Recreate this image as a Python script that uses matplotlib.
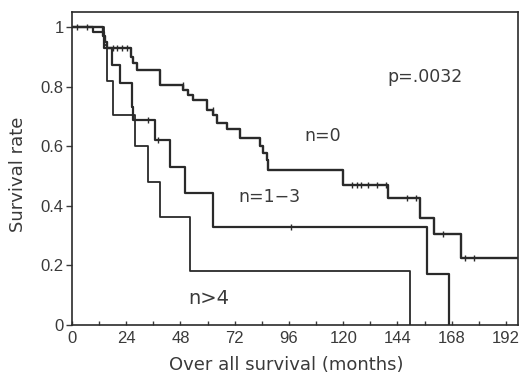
import matplotlib
matplotlib.use("Agg")
import matplotlib.pyplot as plt
from matplotlib.ticker import MultipleLocator

plt.rcParams['font.family'] = ['Liberation Sans', 'DejaVu Sans']

# n = 0
t0 = [0, 13.5, 14.5, 15.5, 26, 27, 28.6, 39, 49.3, 51.5, 53.7, 59.6, 62.5, 64, 68.4, 74.3, 83.2, 84.6, 86.1, 86.9, 120, 140, 154, 160, 172, 197]
s0 = [1, 0.97, 0.95, 0.93, 0.90, 0.88, 0.857, 0.807, 0.79, 0.773, 0.756, 0.723, 0.706, 0.68, 0.66, 0.63, 0.60, 0.577, 0.555, 0.52, 0.47, 0.427, 0.36, 0.306, 0.226, 0.226]
c0_t = [2, 6.6, 18, 20, 22, 24.5, 49.3, 62.5, 124, 126, 128, 131, 135, 139, 148, 152, 164, 174, 178]
c0_s = [1, 1, 0.93, 0.93, 0.93, 0.93, 0.807, 0.723, 0.47, 0.47, 0.47, 0.47, 0.47, 0.47, 0.427, 0.427, 0.306, 0.226, 0.226]

# n = 1-3
t1 = [0, 9.4, 14, 17.5, 21.2, 26.4, 27.1, 36.7, 43.4, 50, 62.5, 157, 167]
s1 = [1, 0.986, 0.93, 0.874, 0.812, 0.734, 0.689, 0.622, 0.532, 0.443, 0.33, 0.171, 0]
c1_t = [33.8, 38.2, 97]
c1_s = [0.689, 0.622, 0.33]

# n > 4
t2 = [0, 14, 15.5, 18.3, 27.9, 33.8, 38.9, 52.2, 149.6]
s2 = [1, 0.94, 0.82, 0.706, 0.60, 0.48, 0.364, 0.183, 0]

xticks = [0, 24, 48, 72, 96, 120, 144, 168, 192]
yticks = [0, 0.2, 0.4, 0.6, 0.8, 1]
ytick_labels = ['0', '0.2', '0.4', '0.6', '0.8', '1']

fig = plt.figure(figsize=(5.19, 3.74), dpi=100)
ax = fig.add_axes([0.1387, 0.131, 0.8593, 0.837])

lc = '#2a2a2a'
ax.plot(t0, s0, drawstyle='steps-post', color=lc, lw=1.7)
ax.plot(t1, s1, drawstyle='steps-post', color=lc, lw=1.6)
ax.plot(t2, s2, drawstyle='steps-post', color=lc, lw=1.3)
ax.plot(c0_t, c0_s, linestyle='none', marker='|', markersize=5, color=lc, mew=1)
ax.plot(c1_t, c1_s, linestyle='none', marker='|', markersize=5, color=lc, mew=1)

ax.set_xlim(0, 197.3)
ax.set_ylim(0, 1.052)
ax.set_xticks(xticks)
ax.xaxis.set_minor_locator(MultipleLocator(12))
ax.set_yticks(yticks)
ax.set_yticklabels(ytick_labels)

tc = '#3a3a3a'
ax.tick_params(axis='x', direction='in', length=3, width=1, colors=tc, labelsize=12, pad=4)
ax.tick_params(axis='x', which='minor', direction='in', length=3, width=1, color=tc)
ax.tick_params(axis='y', direction='out', length=4, width=1, colors=tc, labelsize=12, pad=2)
for sp in ax.spines.values():
    sp.set_color(lc)
    sp.set_linewidth(1.2)

ax.set_xlabel('Over all survival (months)', fontsize=13, color=tc, family='DejaVu Sans')
ax.set_ylabel('Survival rate', fontsize=13, color=tc, family='DejaVu Sans')
ax.xaxis.set_label_coords(0.48, -0.100)
ax.yaxis.set_label_coords(-0.10, 0.482)

ax.text(139.4, 0.834, 'p=.0032', fontsize=12.5, color=tc, va='center', family='DejaVu Sans')
ax.text(103, 0.635, 'n=0', fontsize=12.5, color=tc, va='center', family='DejaVu Sans')
ax.text(73.5, 0.43, 'n=1\u22123', fontsize=12.5, color=tc, va='center', family='DejaVu Sans')
ax.text(51.3, 0.09, 'n>4', fontsize=14, color=tc, va='center', family='DejaVu Sans')

fig.savefig('out.png', dpi=100)
